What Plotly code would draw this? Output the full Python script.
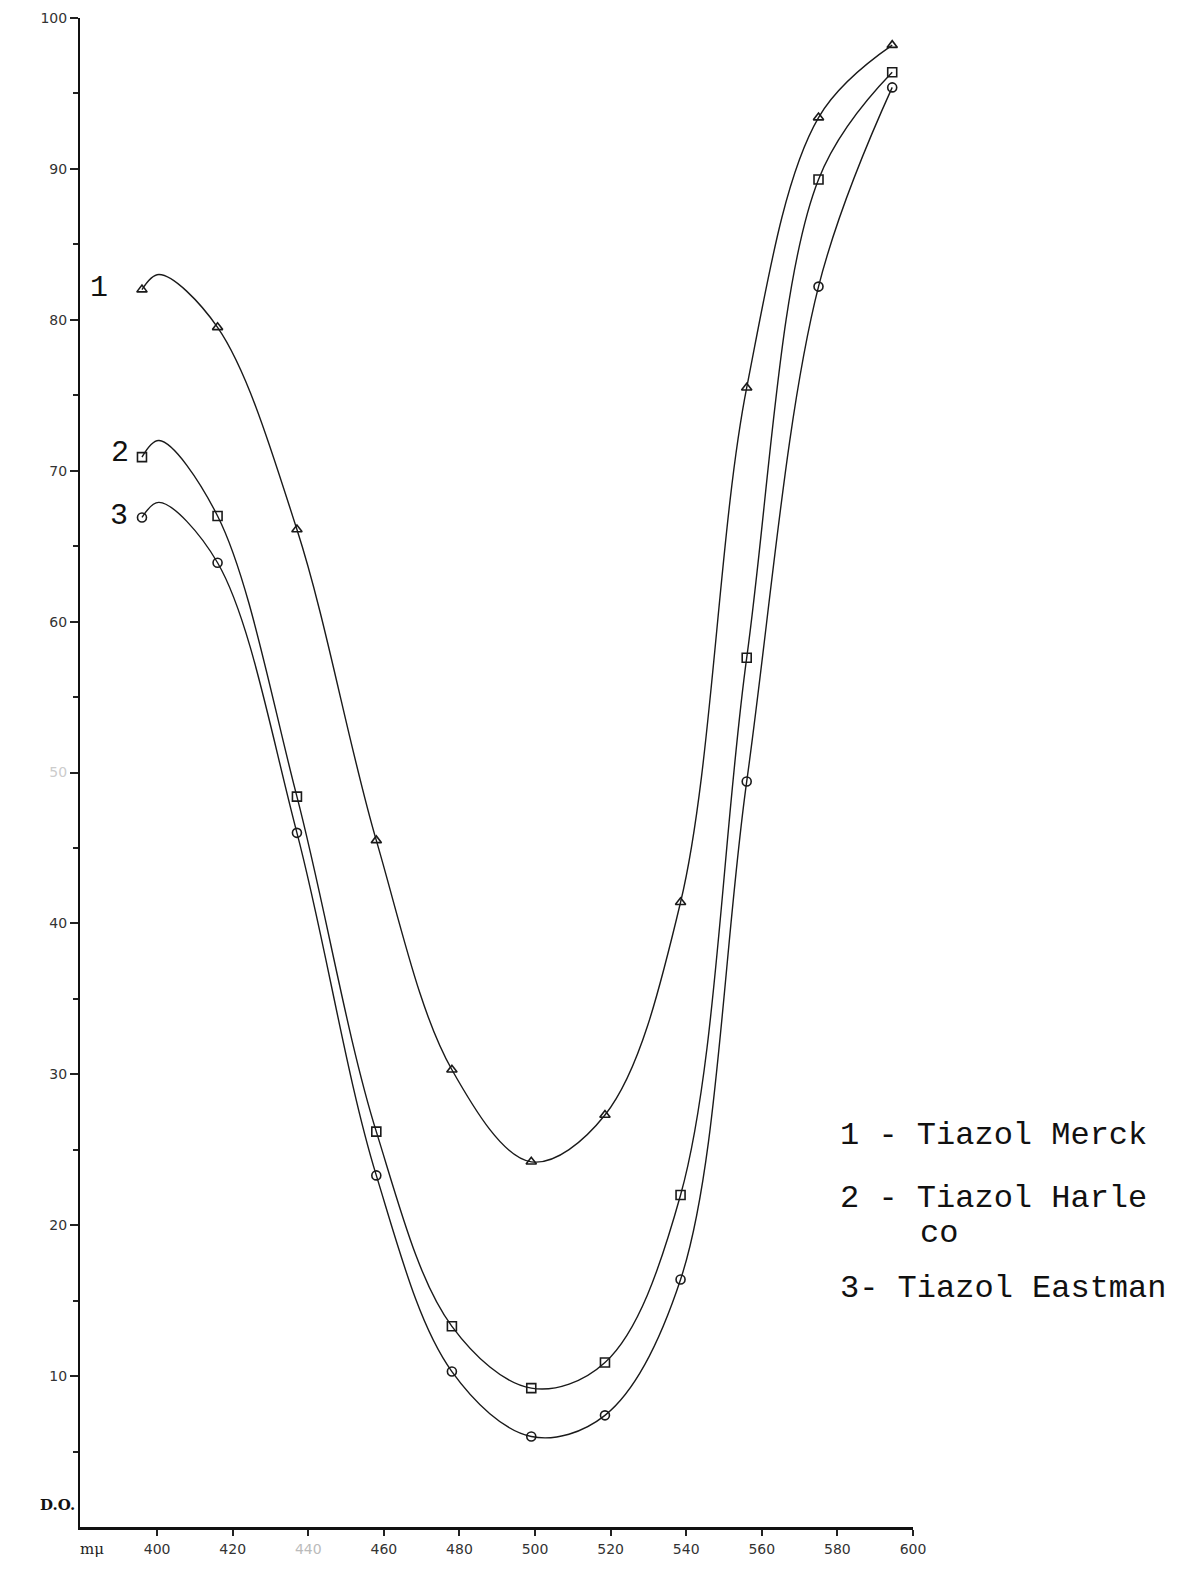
import plotly.graph_objects as go

# wavelength positions of the plotted points (mμ)
wavelengths = [396, 416, 437, 458, 478, 499, 518.5, 538.5, 556, 575, 594.5]

merck = [82.0, 79.5, 66.1, 45.5, 30.3, 24.2, 27.3, 41.4, 75.5, 93.4, 98.2]
harleco = [70.9, 67.0, 48.4, 26.2, 13.3, 9.2, 10.9, 22.0, 57.6, 89.3, 96.4]
eastman = [66.9, 63.9, 46.0, 23.3, 10.3, 6.0, 7.4, 16.4, 49.4, 82.2, 95.4]

# hand-drawn curve maximum near 400 mμ
peak_wl = 400.5
peaks = [83.0, 72.0, 67.9]

series_names = ["Tiazol Merck", "Tiazol Harleco", "Tiazol Eastman"]
symbols = ["triangle-up-open", "square-open", "circle-open"]

x_ticks = [400, 420, 440, 460, 480, 500, 520, 540, 560, 580, 600]
x_ticktext = ["400", "420", "<span style='color:#bbb'>440</span>", "460", "480",
              "500", "520", "540", "560", "580", "600"]
y_ticks = [10, 20, 30, 40, 50, 60, 70, 80, 90, 100]
y_ticktext = ["10", "20", "30", "40", "<span style='color:#ccc'>50</span>", "60",
              "70", "80", "90", "100"]

fig = go.Figure()
ink = "#1a1a1a"
for vals, pk, name, sym in zip([merck, harleco, eastman], peaks, series_names, symbols):
    cx = [wavelengths[0], peak_wl] + wavelengths[1:]
    cy = [vals[0], pk] + vals[1:]
    fig.add_trace(go.Scatter(
        x=cx, y=cy, mode="lines", line=dict(color=ink, width=1.4, shape="spline", smoothing=1.0),
        showlegend=False, hoverinfo="skip"))
    fig.add_trace(go.Scatter(
        x=wavelengths, y=vals, mode="markers", name=name,
        marker=dict(symbol=sym, size=9, color=ink, line=dict(width=1.6, color=ink)),
        showlegend=False))

# page body has an 8px margin: figure is sized/offset to compensate
fig.update_layout(
    width=1178, height=1554,
    margin=dict(l=72, r=273, t=10, b=35, autoexpand=False),
    paper_bgcolor="white", plot_bgcolor="white",
    font=dict(family="DejaVu Sans", color="#333"),
    xaxis=dict(range=[379.6, 600], tickvals=x_ticks, ticktext=x_ticktext, automargin=False,
               showgrid=False, zeroline=False, showline=True, linecolor="#111", linewidth=3,
               ticks="outside", ticklen=6, tickwidth=1.5, tickcolor="#222",
               ticklabelstandoff=1,
               tickfont=dict(size=14, color="#333")),
    yaxis=dict(range=[0, 100], tickvals=y_ticks, ticktext=y_ticktext, automargin=False,
               showgrid=False, zeroline=False, showline=True, linecolor="#111", linewidth=2,
               ticks="outside", ticklen=8, tickwidth=1.5, tickcolor="#222",
               tickfont=dict(size=14, color="#333"),
               minor=dict(tickvals=[5, 15, 25, 35, 45, 55, 65, 75, 85, 95],
                          ticks="outside", ticklen=5, tickwidth=1.5, tickcolor="#222")),
)

typew = "Liberation Mono"
# curve numbers
for label, xv, yv in [("1", 384.6, 82.1), ("2", 390.2, 71.2), ("3", 390.0, 67.0)]:
    fig.add_annotation(x=xv, y=yv, xref="x", yref="y", text=label, showarrow=False,
                       xanchor="center", yanchor="middle",
                       font=dict(family=typew, size=30, color="#111"))


def px_to_paper(px, py):
    return (px - 80) / 833, (1527 - py) / 1509


# axis captions
x0, y0 = px_to_paper(77, 1505)
fig.add_annotation(x=x0, y=y0, xref="paper", yref="paper", text="<b>D.O.</b>", showarrow=False,
                   xanchor="right", yanchor="middle",
                   font=dict(family="DejaVu Serif", size=15, color="#111"))
x0, y0 = px_to_paper(92, 1549)
fig.add_annotation(x=x0, y=y0, xref="paper", yref="paper", text="mμ", showarrow=False,
                   xanchor="center", yanchor="middle",
                   font=dict(family="DejaVu Serif", size=15, color="#222"))

# legend text
legend_lines = [("1 - Tiazol Merck", 838, 1135), ("2 - Tiazol Harle", 838, 1198),
                ("co", 918, 1233), ("3- Tiazol Eastman", 838, 1288)]
for txt, px, py in legend_lines:
    x0, y0 = px_to_paper(px, py)
    fig.add_annotation(x=x0, y=y0, xref="paper", yref="paper",
                       xanchor="left", yanchor="middle", text=txt, showarrow=False,
                       font=dict(family=typew, size=32, color="#111"))

fig.write_html("out.html")
